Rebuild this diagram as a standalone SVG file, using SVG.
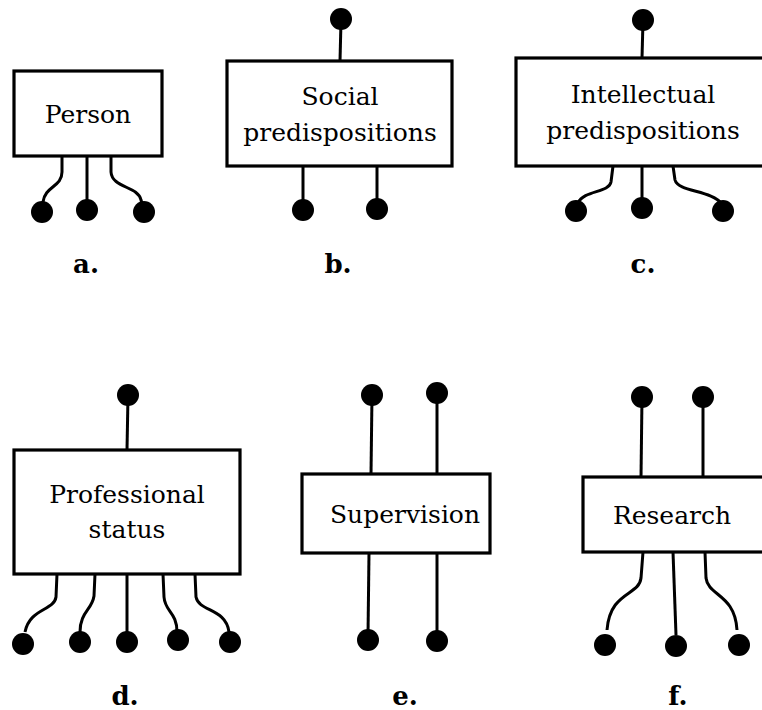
<svg xmlns="http://www.w3.org/2000/svg" width="762" height="710" viewBox="0 0 762 710">
  <style>
    .box { fill: #fff; stroke: #000; stroke-width: 3.2; }
    .wire { fill: none; stroke: #000; stroke-width: 3; stroke-linecap: butt; }
    .pin { fill: #000; }
    .name { font-family: "DejaVu Serif", "Liberation Serif", serif; font-size: 25px; text-anchor: middle; fill: #000; }
    .tag { font-family: "DejaVu Serif", "Liberation Serif", serif; font-size: 26px; font-weight: bold; text-anchor: middle; fill: #000; }
  </style>
  <defs>
    <clipPath id="frame"><rect x="12" y="0" width="750" height="710"/></clipPath>
  </defs>
  <rect width="762" height="710" fill="#fff"/>
  <g clip-path="url(#frame)">
    <!-- connectors: wires from each box to its pins -->
    <g id="connectors">
      <!-- a -->
      <path class="wire" d="M62,156 L62,172 C62,187 45,186 43,202 L43,206"/>
      <path class="wire" d="M87,156 L87,205"/>
      <path class="wire" d="M111,156 L111,172 C112,188 138,186 141,200 L143,206"/>
      <!-- b -->
      <path class="wire" d="M341,21 L340,61"/>
      <path class="wire" d="M303,166 L303,205"/>
      <path class="wire" d="M377,166 L377,205"/>
      <!-- c -->
      <path class="wire" d="M643,21 L642,58"/>
      <path class="wire" d="M613,166 L611,182 C609,193 584,190 578,203"/>
      <path class="wire" d="M642,166 L642,205"/>
      <path class="wire" d="M673,166 L675,180 C678,192 712,190 722,204"/>
      <!-- d -->
      <path class="wire" d="M128,396 L127,450"/>
      <path class="wire" d="M57,574 L56,597 C54,611 30,608 25,632"/>
      <path class="wire" d="M95,574 L94,596 C92,610 80,612 80,632"/>
      <path class="wire" d="M127,574 L127,635"/>
      <path class="wire" d="M163,574 L164,597 C165,612 177,612 177,632"/>
      <path class="wire" d="M195,574 L196,597 C199,612 226,608 229,632"/>
      <!-- e -->
      <path class="wire" d="M372,395 L371,474"/>
      <path class="wire" d="M437,394 L437,474"/>
      <path class="wire" d="M369,553 L368,635"/>
      <path class="wire" d="M437,553 L437,635"/>
      <!-- f -->
      <path class="wire" d="M642,397 L641,477"/>
      <path class="wire" d="M703,397 L703,477"/>
      <path class="wire" d="M643,552 L641,578 C639,596 610,591 607,630"/>
      <path class="wire" d="M673,552 L676,635"/>
      <path class="wire" d="M705,552 L706,578 C708,596 735,594 737,630"/>
    </g>

    <g id="node-person">
      <rect class="box" x="14" y="71" width="148" height="85"/>
      <text class="name" x="88" y="123">Person</text>
      <circle class="pin" cx="42" cy="212" r="11"/>
      <circle class="pin" cx="87" cy="210" r="11"/>
      <circle class="pin" cx="144" cy="212" r="11"/>
      <text class="tag" x="86" y="273">a.</text>
    </g>

    <g id="node-social">
      <rect class="box" x="227" y="61" width="225" height="105"/>
      <text class="name" x="340" y="105">Social</text>
      <text class="name" x="340" y="141">predispositions</text>
      <circle class="pin" cx="341" cy="19" r="11"/>
      <circle class="pin" cx="303" cy="210" r="11"/>
      <circle class="pin" cx="377" cy="209" r="11"/>
      <text class="tag" x="338" y="273">b.</text>
    </g>

    <g id="node-intellectual">
      <rect class="box" x="516" y="58" width="256" height="108"/>
      <text class="name" x="643" y="103">Intellectual</text>
      <text class="name" x="643" y="139">predispositions</text>
      <circle class="pin" cx="643" cy="20" r="11"/>
      <circle class="pin" cx="576" cy="211" r="11"/>
      <circle class="pin" cx="642" cy="208" r="11"/>
      <circle class="pin" cx="723" cy="211" r="11"/>
      <text class="tag" x="643" y="273">c.</text>
    </g>

    <g id="node-professional">
      <rect class="box" x="14" y="450" width="226" height="124"/>
      <text class="name" x="127" y="503">Professional</text>
      <text class="name" x="127" y="538">status</text>
      <circle class="pin" cx="128" cy="395" r="11"/>
      <circle class="pin" cx="23" cy="644" r="11"/>
      <circle class="pin" cx="80" cy="642" r="11"/>
      <circle class="pin" cx="127" cy="642" r="11"/>
      <circle class="pin" cx="178" cy="640" r="11"/>
      <circle class="pin" cx="230" cy="642" r="11"/>
      <text class="tag" x="125" y="705">d.</text>
    </g>

    <g id="node-supervision">
      <rect class="box" x="302" y="474" width="188" height="79"/>
      <text class="name" x="405" y="523">Supervision</text>
      <circle class="pin" cx="372" cy="395" r="11"/>
      <circle class="pin" cx="437" cy="393" r="11"/>
      <circle class="pin" cx="368" cy="640" r="11"/>
      <circle class="pin" cx="437" cy="641" r="11"/>
      <text class="tag" x="405" y="705">e.</text>
    </g>

    <g id="node-research">
      <rect class="box" x="583" y="477" width="190" height="75"/>
      <text class="name" x="672" y="524">Research</text>
      <circle class="pin" cx="642" cy="397" r="11"/>
      <circle class="pin" cx="703" cy="397" r="11"/>
      <circle class="pin" cx="605" cy="645" r="11"/>
      <circle class="pin" cx="676" cy="646" r="11"/>
      <circle class="pin" cx="739" cy="645" r="11"/>
      <text class="tag" x="678" y="705">f.</text>
    </g>
  </g>
</svg>
